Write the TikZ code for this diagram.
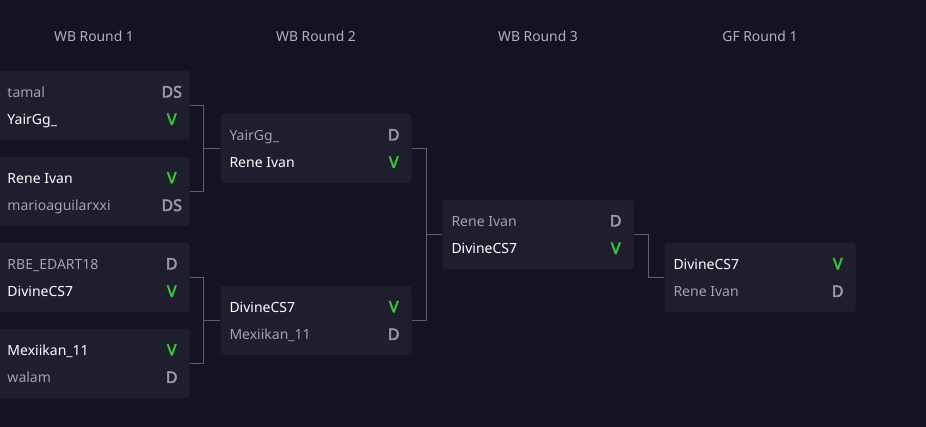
\documentclass[tikz,border=0pt]{standalone}
\usepackage{fontspec}
\setmainfont{Noto Sans}
\newfontfamily\markfont{Noto Sans}[FakeBold=3]
\usetikzlibrary{calc, positioning}
\definecolor{bgdark}{HTML}{14131F}
\definecolor{boxfill}{HTML}{1F1E2D}
\definecolor{linkgray}{HTML}{5F5F6B}
\definecolor{wingreen}{HTML}{3DC23D}
\definecolor{losegray}{HTML}{A2A2B2}
\definecolor{headgray}{HTML}{B2B2BC}
\tikzset{
  match/.style={fill=boxfill, rounded corners=2pt, minimum width=143.25pt, minimum height=51.75pt, inner sep=0pt},
  win/.style={text=white, inner sep=0pt, font=\fontsize{10.5}{12}\selectfont},
  lose/.style={win, text=losegray},
  win mark/.style={inner sep=0pt, anchor=base, text=wingreen, font=\markfont\fontsize{12}{14}\selectfont},
  lose mark/.style={win mark, text=losegray!110},
  roundhead/.style={anchor=base, text=headgray, inner sep=0pt, font=\fontsize{10.4}{12}\selectfont},
  link/.style={draw=linkgray, line width=0.75pt}
}
% one match box: name, centre, top style, top player, top mark, bottom style, bottom player, bottom mark
\newcommand{\bmatch}[8]{%
  \node[match] (#1) at #2 {};
  \node[#3, anchor=base west] (#1-p1) at ($(#1.west)+(9,-8)$) {#4};
  \node[#3 mark] (#1-s1) at ($(#1.east)+(-18,-8)$) {#5};
  \node[#6, anchor=base west] (#1-p2) at ($(#1.west)+(9,19.5)$) {#7};
  \node[#6 mark] (#1-s2) at ($(#1.east)+(-18,19.5)$) {#8};
}

\begin{document}
\begin{tikzpicture}[x=0.75pt, y=-0.75pt]
  \fill[bgdark] (0,0) rectangle (926,427);
  \useasboundingbox (0,0) rectangle (926,427);

  \node[roundhead] (h1) at (94,41.5) {WB Round 1};
  \node[roundhead] (h2) at (316,41.5) {WB Round 2};
  \node[roundhead] (h3) at (538,41.5) {WB Round 3};
  \node[roundhead] (h4) at (760,41.5) {GF Round 1};

  \bmatch{r1a}{(94,105.5)}{lose}{tamal}{DS}{win}{YairGg\_}{V}
  \bmatch{r1b}{(94,191.5)}{win}{Rene Ivan}{V}{lose}{marioaguilarxxi}{DS}
  \bmatch{r1c}{(94,277.5)}{lose}{RBE\_EDART18}{D}{win}{DivineCS7}{V}
  \bmatch{r1d}{(94,363.5)}{win}{Mexiikan\_11}{V}{lose}{walam}{D}

  \bmatch{r2a}{(316,148.5)}{lose}{YairGg\_}{D}{win}{Rene Ivan}{V}
  \bmatch{r2b}{(316,320.5)}{win}{DivineCS7}{V}{lose}{Mexiikan\_11}{D}

  \bmatch{r3}{(538,234.5)}{lose}{Rene Ivan}{D}{win}{DivineCS7}{V}

  \bmatch{gf}{(760,277.5)}{win}{DivineCS7}{V}{lose}{Rene Ivan}{D}

  % brackets
  \draw[link] (r1a.east) -- ++(14,0) |- (r1b.east);
  \draw[link] ($(r1a.east)!0.5!(r1b.east)+(14,0)$) -- (r2a.west);
  \draw[link] (r1c.east) -- ++(14,0) |- (r1d.east);
  \draw[link] ($(r1c.east)!0.5!(r1d.east)+(14,0)$) -- (r2b.west);
  \draw[link] (r2a.east) -- ++(15,0) |- (r2b.east);
  \draw[link] ($(r2a.east)!0.5!(r2b.east)+(15,0)$) -- (r3.west);
  \draw[link] (r3.east) -- ++(15,0) |- (gf.west);
\end{tikzpicture}
\end{document}
